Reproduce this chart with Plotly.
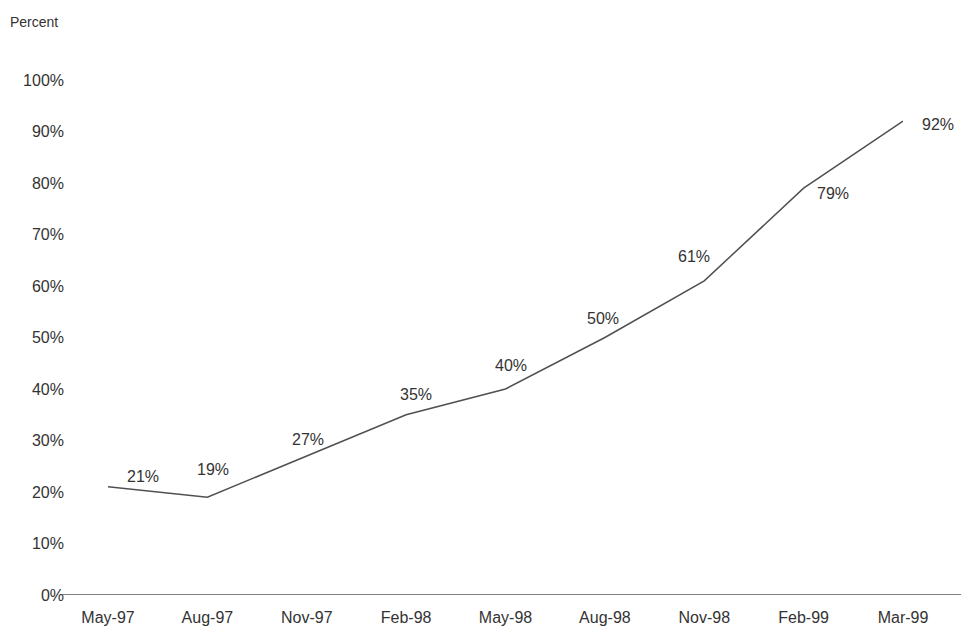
import plotly.graph_objects as go

months = ["May-97", "Aug-97", "Nov-97", "Feb-98", "May-98", "Aug-98", "Nov-98", "Feb-99", "Mar-99"]
percent = [21, 19, 27, 35, 40, 50, 61, 79, 92]
y_ticks = [0, 10, 20, 30, 40, 50, 60, 70, 80, 90, 100]

# label offsets (pixels) for each data label
label_dx = [35, 6, 1, 10, 5, -2, -10, 29, 35]
label_dy = [10, 28, 16, 20, 24, 19, 24, -5, -3]

W, H = 961, 632
FONT = "Liberation Sans, Arial, sans-serif"
TXT = "#333333"

fig = go.Figure()
fig.add_trace(go.Scatter(
    x=list(range(len(months))), y=percent, mode="lines",
    line=dict(color="#505050", width=1.5), xaxis="x", yaxis="y",
    hoverinfo="skip", showlegend=False))
fig.add_trace(go.Scatter(
    x=list(range(len(months))), y=[None]*len(months), mode="lines",
    xaxis="x2", yaxis="y", showlegend=False, hoverinfo="skip"))

for i, (m, v) in enumerate(zip(months, percent)):
    fig.add_annotation(x=i, y=v, xref="x", yref="y", text=f"{v}%",
                       showarrow=False, xshift=label_dx[i], yshift=label_dy[i],
                       font=dict(family=FONT, size=16, color=TXT))

fig.add_annotation(x=8/W, y=1-22/H, xref="paper", yref="paper", text="Percent",
                   showarrow=False, xanchor="left", yanchor="middle",
                   font=dict(family=FONT, size=14, color=TXT))

fig.add_shape(type="line", xref="paper", yref="y", x0=61/W, x1=1, y0=0, y1=0,
              line=dict(color="#555555", width=1.5))

ydom = [(H-595)/H, (H-80)/H]
fig.update_layout(
    width=W, height=H, margin=dict(l=0, r=0, t=0, b=0, pad=0, autoexpand=False),
    showlegend=False,
    paper_bgcolor="white", plot_bgcolor="white",
    xaxis=dict(domain=[108/W, 903/W], range=[0, 8], showticklabels=False, automargin=False,
               showgrid=False, zeroline=False, showline=False, anchor="y"),
    xaxis2=dict(domain=[107/W, 932/W], range=[0, 8], overlaying="x", side="bottom",
                tickvals=list(range(len(months))), ticktext=months, automargin=False,
                showgrid=False, zeroline=False, showline=False, anchor="y",
                ticks="outside", ticklen=8, tickcolor="rgba(0,0,0,0)",
                tickfont=dict(family=FONT, size=16, color=TXT)),
    yaxis=dict(domain=ydom, range=[0, 100], tickvals=y_ticks, automargin=False,
               ticktext=[f"{t}%" for t in y_ticks], anchor="free", position=64/W,
               showgrid=False, zeroline=False, showline=False,
               tickfont=dict(family=FONT, size=16, color=TXT)),
)
fig.write_html("out.html")
